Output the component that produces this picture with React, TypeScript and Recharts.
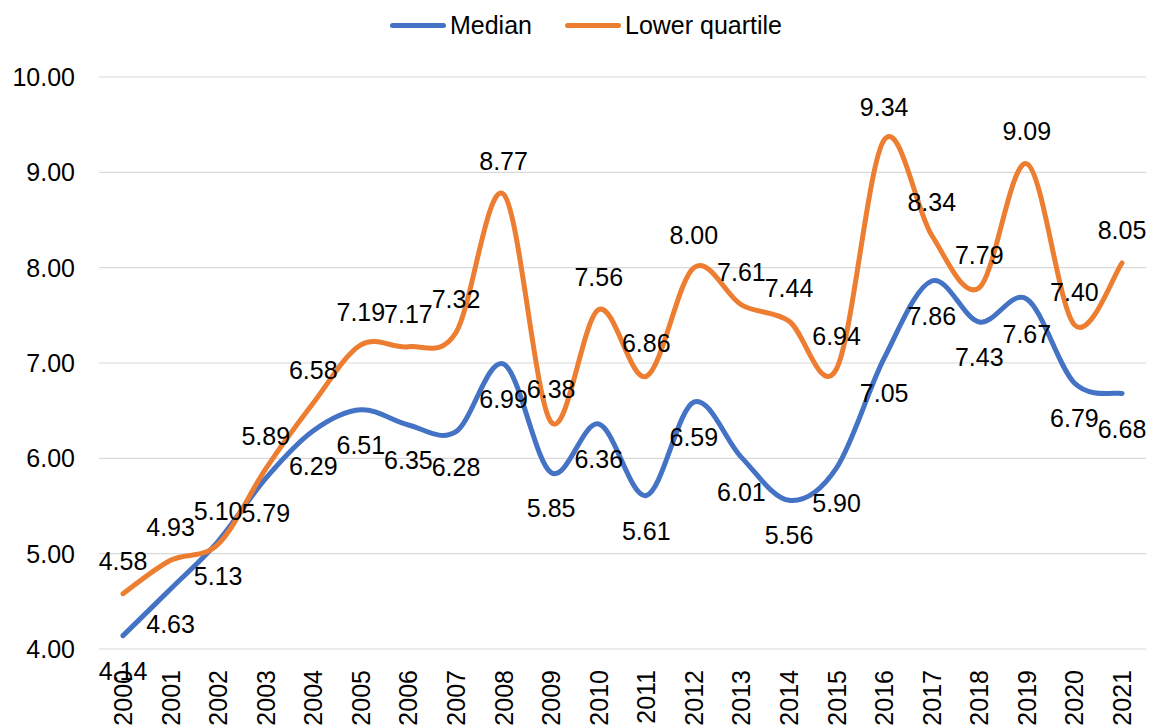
import React from "react";
import {
  CartesianGrid,
  LabelList,
  Legend,
  Line,
  LineChart,
  XAxis,
  YAxis,
} from "recharts";

const years = [
  "2000", "2001", "2002", "2003", "2004", "2005", "2006", "2007", "2008", "2009", "2010",
  "2011", "2012", "2013", "2014", "2015", "2016", "2017", "2018", "2019", "2020", "2021",
];

const median = [
  4.14, 4.63, 5.13, 5.79, 6.29, 6.51, 6.35, 6.28, 6.99, 5.85, 6.36,
  5.61, 6.59, 6.01, 5.56, 5.9, 7.05, 7.86, 7.43, 7.67, 6.79, 6.68,
];

const lowerQuartile = [
  4.58, 4.93, 5.1, 5.89, 6.58, 7.19, 7.17, 7.32, 8.77, 6.38, 7.56,
  6.86, 8.0, 7.61, 7.44, 6.94, 9.34, 8.34, 7.79, 9.09, 7.4, 8.05,
];

const seriesNames = ["Median", "Lower quartile"];

const yTicks = [4, 5, 6, 7, 8, 9, 10];

const data = years.map((year, i) => ({
  year,
  median: median[i],
  lower: lowerQuartile[i],
}));

const FONT = "'Liberation Sans', Arial, sans-serif";
const BLUE = "#4472C4";
const ORANGE = "#ED7D31";

// Excel-style smoothed line (Catmull-Rom converted to bezier segments)
const excelSmooth = (context: any) => {
  let pts: number[][] = [];
  return {
    areaStart() {},
    areaEnd() {},
    lineStart() {
      pts = [];
    },
    point(x: number, y: number) {
      pts.push([+x, +y]);
    },
    lineEnd() {
      if (!pts.length) return;
      context.moveTo(pts[0][0], pts[0][1]);
      for (let i = 0; i < pts.length - 1; i++) {
        const p0 = pts[i - 1] || pts[i];
        const p1 = pts[i];
        const p2 = pts[i + 1];
        const p3 = pts[i + 2] || p2;
        context.bezierCurveTo(
          p1[0] + (p2[0] - p0[0]) / 6,
          p1[1] + (p2[1] - p0[1]) / 6,
          p2[0] - (p3[0] - p1[0]) / 6,
          p2[1] - (p3[1] - p1[1]) / 6,
          p2[0],
          p2[1]
        );
      }
    },
  };
};

const makeLabel = (dy: number) => (props: any) => {
  const { x, y, value } = props;
  if (value == null) return null;
  return (
    <text
      x={x}
      y={y + dy}
      textAnchor="middle"
      dominantBaseline="central"
      fontSize={25}
      fontFamily={FONT}
      fill="#000"
    >
      {Number(value).toFixed(2)}
    </text>
  );
};

const YearTick = ({ x, y, payload }: any) => (
  <text
    x={x}
    y={y}
    transform={`rotate(-90 ${x} ${y})`}
    textAnchor="end"
    dominantBaseline="central"
    fontSize={25}
    fontFamily={FONT}
    fill="#000"
  >
    {payload.value}
  </text>
);

const renderLegend = (props: any) => {
  const items = [...(props.payload || [])].sort(
    (a: any, b: any) => seriesNames.indexOf(a.value) - seriesNames.indexOf(b.value)
  );
  return (
    <div
      style={{
        display: "flex",
        justifyContent: "center",
        alignItems: "center",
        height: 50,
        paddingLeft: 12,
        fontSize: 25,
        fontFamily: FONT,
        color: "#000",
      }}
    >
      {items.map((entry: any, i: number) => (
        <div
          key={entry.value}
          style={{ display: "flex", alignItems: "center", marginLeft: i ? 33 : 0 }}
        >
          <span
            style={{
              display: "inline-block",
              width: 56,
              height: 5,
              borderRadius: 3,
              background: entry.color,
              marginRight: 4,
            }}
          />
          <span>{entry.value}</span>
        </div>
      ))}
    </div>
  );
};

export default function App() {
  return (
    <div style={{ position: "absolute", left: 0, top: 0, background: "#fff" }}>
      <LineChart
        width={1160}
        height={726}
        data={data}
        margin={{ top: 27, right: 14, left: 0, bottom: 0 }}
      >
        <CartesianGrid vertical={false} stroke="#d9d9d9" strokeWidth={1.2} />
        <XAxis
          dataKey="year"
          interval={0}
          axisLine={false}
          tickLine={false}
          tickSize={0}
          tickMargin={21}
          height={77}
          padding={{ left: 24, right: 24 }}
          tick={<YearTick />}
        />
        <YAxis
          domain={[4, 10]}
          ticks={yTicks}
          width={99}
          axisLine={false}
          tickLine={false}
          tickSize={0}
          tickMargin={24}
          tickFormatter={(v: number) => v.toFixed(2)}
          tick={{ fontSize: 25, fontFamily: FONT, fill: "#000" }}
        />
        <Legend
          verticalAlign="top"
          content={renderLegend}
          wrapperStyle={{ top: 0, left: 0, width: 1160 }}
        />
        <Line
          type={excelSmooth as any}
          dataKey="median"
          name={seriesNames[0]}
          stroke={BLUE}
          strokeWidth={5}
          strokeLinecap="round"
          dot={false}
          activeDot={false}
          isAnimationActive={false}
        >
          <LabelList dataKey="median" content={makeLabel(35)} />
        </Line>
        <Line
          type={excelSmooth as any}
          dataKey="lower"
          name={seriesNames[1]}
          stroke={ORANGE}
          strokeWidth={5}
          strokeLinecap="round"
          dot={false}
          activeDot={false}
          isAnimationActive={false}
        >
          <LabelList dataKey="lower" content={makeLabel(-33)} />
        </Line>
      </LineChart>
    </div>
  );
}
